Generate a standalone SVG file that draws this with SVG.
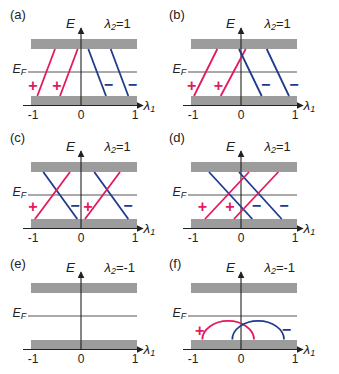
<svg xmlns="http://www.w3.org/2000/svg" width="339" height="374" viewBox="0 0 339 374">
<defs>
<style>
.bar{fill:#9c9c9c}
.ef{stroke:#555;stroke-width:1}
.ax{stroke:#222;stroke-width:1.1;fill:none}
.r{stroke:#e3195d;stroke-width:1.8;fill:none}
.b{stroke:#203a8e;stroke-width:1.8;fill:none}
.t{font-family:"Liberation Sans",Arial,sans-serif;fill:#222}
.pl{font-size:13px}
.it{font-style:italic}
.tick{font-size:12px;text-anchor:middle}
.pm{font-family:"Liberation Sans",Arial,sans-serif;font-size:16px;text-anchor:middle;font-weight:bold}
.pr{fill:#e3195d}
.mb{fill:#203a8e}
</style>
<marker id="ah" viewBox="0 0 10 10" refX="9" refY="5" markerWidth="7" markerHeight="7" markerUnits="userSpaceOnUse" orient="auto">
<path d="M0,0 L10,5 L0,10 z" fill="#222"/>
</marker>
<g id="frame">
<rect class="bar" x="31" y="39" width="106" height="10"/>
<rect class="bar" x="31" y="96" width="106" height="9.3"/>
<line class="ef" x1="28" y1="72" x2="137" y2="72"/>
<line class="ax" x1="23" y1="105.5" x2="143" y2="105.5" marker-end="url(#ah)"/>
<line class="ax" x1="81" y1="105.5" x2="81" y2="28" marker-end="url(#ah)"/>
<text class="t it" x="66" y="28" font-size="13.5">E</text>
<text class="t it" x="12.5" y="73" font-size="12.5">E<tspan font-size="9" dy="2">F</tspan></text>
<text class="t it" x="143.5" y="110" font-size="13.5">λ<tspan font-size="9" dy="2">1</tspan></text>
<text class="t tick" x="33" y="118.5">-1</text>
<text class="t tick" x="81" y="118.5">0</text>
<text class="t tick" x="135" y="118.5">1</text>
</g>
</defs>

<g id="panel-a">
<text class="t pl" x="10" y="19">(a)</text>
<use href="#frame"/>
<text class="t" x="104.5" y="28" font-size="13"><tspan font-style="italic">λ</tspan><tspan font-size="9" dy="2" font-style="italic">2</tspan><tspan dy="-2">=1</tspan></text>
<g id="conn-a">
<line class="r" x1="37.3" y1="96" x2="55" y2="49"/>
<line class="r" x1="60" y1="96" x2="77.7" y2="49"/>
<line class="b" x1="88.3" y1="49" x2="106" y2="96"/>
<line class="b" x1="110.7" y1="49" x2="128.3" y2="96"/>
</g>
<text class="pm pr" x="33" y="90.5">+</text>
<text class="pm pr" x="57" y="90.5">+</text>
<text class="pm mb" x="108.5" y="89.5">−</text>
<text class="pm mb" x="132.5" y="89.5">−</text>
</g>

<g id="panel-b" transform="translate(160,0)">
<text class="t pl" x="9" y="19">(b)</text>
<use href="#frame"/>
<text class="t" x="104.5" y="28" font-size="13"><tspan font-style="italic">λ</tspan><tspan font-size="9" dy="2" font-style="italic">2</tspan><tspan dy="-2">=1</tspan></text>
<g id="conn-b">
<line class="r" x1="34" y1="96" x2="57.3" y2="49"/>
<line class="r" x1="60.7" y1="96" x2="85.7" y2="49"/>
<line class="b" x1="79" y1="49" x2="101.7" y2="96"/>
<line class="b" x1="106.7" y1="49" x2="129" y2="96"/>
</g>
<text class="pm pr" x="31.7" y="90.5">+</text>
<text class="pm pr" x="58.3" y="90.5">+</text>
<text class="pm mb" x="105.7" y="89.5">−</text>
<text class="pm mb" x="134" y="89.5">−</text>
</g>

<g id="panel-c" transform="translate(0,123)">
<text class="t pl" x="10" y="19">(c)</text>
<use href="#frame"/>
<text class="t" x="104.5" y="28" font-size="13"><tspan font-style="italic">λ</tspan><tspan font-size="9" dy="2" font-style="italic">2</tspan><tspan dy="-2">=1</tspan></text>
<g id="conn-c">
<line class="b" x1="43.3" y1="49" x2="77.3" y2="96"/>
<line class="r" x1="35" y1="96" x2="70" y2="49"/>
<line class="b" x1="94.3" y1="49" x2="128.3" y2="96"/>
<line class="r" x1="85" y1="96" x2="120" y2="49"/>
</g>
<text class="pm pr" x="33" y="89">+</text>
<text class="pm mb" x="75" y="88">−</text>
<text class="pm pr" x="88" y="89">+</text>
<text class="pm mb" x="128" y="88">−</text>
</g>

<g id="panel-d" transform="translate(160,123)">
<text class="t pl" x="9" y="19">(d)</text>
<use href="#frame"/>
<text class="t" x="104.5" y="28" font-size="13"><tspan font-style="italic">λ</tspan><tspan font-size="9" dy="2" font-style="italic">2</tspan><tspan dy="-2">=1</tspan></text>
<g id="conn-d">
<line class="b" x1="49" y1="49" x2="92.3" y2="96"/>
<line class="b" x1="79" y1="49" x2="121.7" y2="96"/>
<line class="r" x1="45" y1="96" x2="89" y2="49"/>
<line class="r" x1="74" y1="96" x2="118.3" y2="49"/>
</g>
<text class="pm pr" x="42.3" y="89">+</text>
<text class="pm pr" x="70" y="89">+</text>
<text class="pm mb" x="96.3" y="88">−</text>
<text class="pm mb" x="124" y="88">−</text>
</g>

<g id="panel-e" transform="translate(0,244)">
<text class="t pl" x="10" y="24">(e)</text>
<use href="#frame"/>
<text class="t" x="104.5" y="28" font-size="13"><tspan font-style="italic">λ</tspan><tspan font-size="9" dy="2" font-style="italic">2</tspan><tspan dy="-2">=-1</tspan></text>
</g>

<g id="panel-f" transform="translate(160,244)">
<text class="t pl" x="9" y="24">(f)</text>
<use href="#frame"/>
<text class="t" x="104.5" y="28" font-size="13"><tspan font-style="italic">λ</tspan><tspan font-size="9" dy="2" font-style="italic">2</tspan><tspan dy="-2">=-1</tspan></text>
<g id="conn-f">
<path class="r" d="M42.3,95.5 A25.8,18.5 0 0 1 94,95.5"/>
<path class="b" d="M72.3,95.5 A25.8,18.5 0 0 1 124,95.5"/>
</g>
<text class="pm pr" x="39.7" y="91.5">+</text>
<text class="pm mb" x="126.3" y="90.5">−</text>
</g>
</svg>
